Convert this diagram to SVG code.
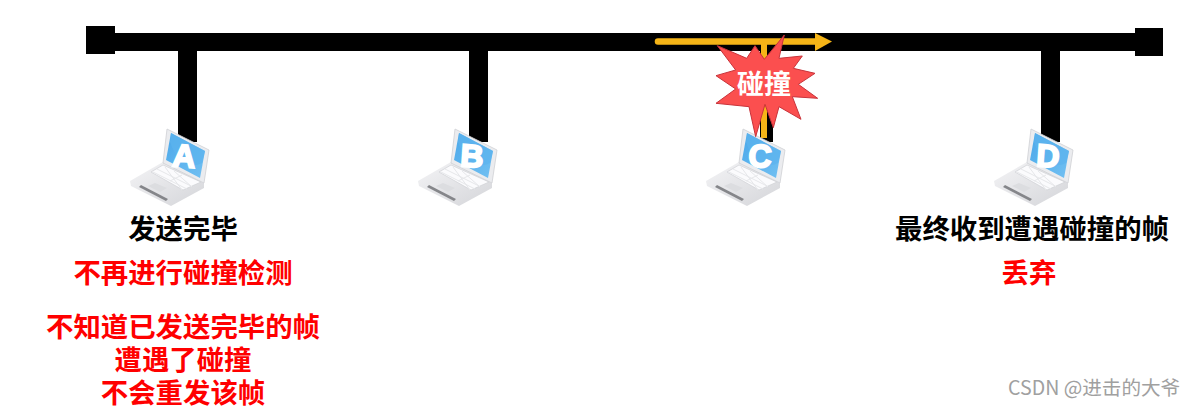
<svg xmlns="http://www.w3.org/2000/svg" width="1195" height="408" viewBox="0 0 1195 408">
<style>
.bar{fill:#000}
.t{font-family:"Noto Sans CJK SC","Liberation Sans",sans-serif;font-weight:700;font-size:27.4px;text-anchor:middle}
.k{fill:#000}.r{fill:#f00}
.l{font-family:"Liberation Sans",sans-serif;font-weight:700;font-size:32px;fill:#fff;stroke:#fff;stroke-width:2px;text-anchor:middle}
</style>
<defs>
<linearGradient id="sc" x1="0" y1="0" x2="1" y2="1"><stop offset="0" stop-color="#4aa8ea"/><stop offset="1" stop-color="#72c0f2"/></linearGradient>
<linearGradient id="bs" x1="0" y1="0" x2="1" y2="1"><stop offset="0" stop-color="#f4f4f6"/><stop offset="1" stop-color="#d4d5d9"/></linearGradient>
<g id="laptop">
<polygon points="130,181 163,162 204,183 204,188 171,206 131,186" fill="url(#bs)"/>
<polygon points="151,172 163,165 201,182 183,190" fill="#fbfbfd" stroke="#d0d1d5" stroke-width=".7"/>
<path d="M157,169L191,186M153,172L187,189M165,167L182,190M174,171L192,187M182,175L170,181" stroke="#e6e7ea" stroke-width="1" fill="none"/>
<polygon points="148,186 155,183 167,188 160,192" fill="#dcdde0"/>
<polygon points="139,187 166,201 168,199 141,185" fill="#85868a"/>
<polygon points="167,129 209,150 204,183 163,163" fill="#ebecef" stroke="#cfd0d4" stroke-width=".8"/>
<polygon points="171,133 205,151 200,178 166,160" fill="url(#sc)"/>
<path d="M171,133L205,151L202,163C188,170 176,160 170,142Z" fill="#5db4ee" opacity=".7"/>
</g>
</defs>
<g id="connectors">
<rect class="bar" x="100" y="33" width="1050" height="18"/>
<rect class="bar" x="178" y="42" width="19" height="100"/>
<rect class="bar" x="469" y="42" width="19" height="100"/>
<rect class="bar" x="760" y="42" width="13" height="100"/>
<rect class="bar" x="1041" y="42" width="19" height="100"/>
<rect x="761" y="42" width="6" height="96" fill="#f5b417"/>
<path d="M658,41.5H816" stroke="#f5b417" stroke-width="6.5" stroke-linecap="round" fill="none"/>
<polygon points="815,33 832,41.5 815,51" fill="#f5b417"/>
</g>
<g id="bus-end-left"><rect class="bar" x="86" y="26" width="29" height="28"/></g>
<g id="bus-end-right"><rect class="bar" x="1135" y="28" width="28" height="28"/></g>
<g id="host-a"><use href="#laptop"/><text class="l" x="184" y="167" transform="rotate(4 184 157)">A</text></g>
<g id="host-b"><use href="#laptop" x="288"/><text class="l" x="472" y="167" transform="rotate(4 472 157)">B</text></g>
<g id="host-c"><use href="#laptop" x="576"/><text class="l" x="760" y="167" transform="rotate(4 760 157)">C</text></g>
<g id="host-d"><use href="#laptop" x="864"/><text class="l" x="1048" y="167" transform="rotate(4 1048 157)">D</text></g>
<g id="collision">
<polygon transform="translate(705 25) scale(.3333)" fill="#fb4f4f" stroke="#c8333a" stroke-width="3" points="238,30 222,100 292,93 265,130 330,145 280,178 338,220 262,215 288,283 222,245 205,308 180,238 152,335 132,245 33,235 92,192 33,152 92,135 37,62 125,100 150,62 178,103"/>
<text class="t" x="764" y="94" fill="#fff" style="font-size:27px">碰撞</text>
</g>
<g id="labels">
<text class="t k" x="183" y="239">发送完毕</text>
<text class="t r" x="183" y="283">不再进行碰撞检测</text>
<text class="t r" x="183" y="337">不知道已发送完毕的帧</text>
<text class="t r" x="183" y="370">遭遇了碰撞</text>
<text class="t r" x="183" y="403">不会重发该帧</text>
<text class="t k" x="1032" y="239">最终收到遭遇碰撞的帧</text>
<text class="t r" x="1029" y="283">丢弃</text>
</g>
<text id="watermark" x="1008" y="395" font-family="'Noto Sans CJK SC','Liberation Sans',sans-serif" font-size="19.6" fill="#a0a0a0">CSDN @进击的大爷</text>
</svg>
